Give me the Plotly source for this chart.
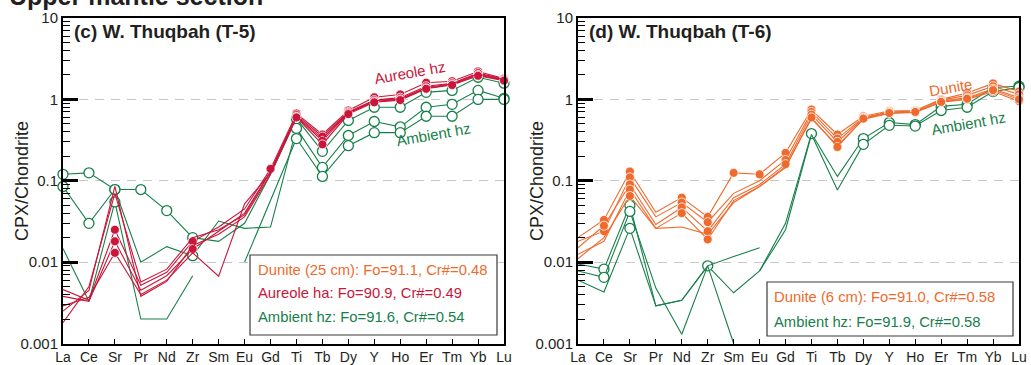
import plotly.graph_objects as go

# Element order on the x axis (chondrite-normalised CPX patterns)
elements = ["La", "Ce", "Sr", "Pr", "Nd", "Zr", "Sm", "Eu", "Gd",
            "Ti", "Tb", "Dy", "Y", "Ho", "Er", "Tm", "Yb", "Lu"]

# ---------------- T-5 ----------------
t5_aureole = [
    [0.0046, 0.0034, 0.025, 0.0052, 0.0075, 0.018, 0.027, 0.045, 0.14, 0.67, 0.37, 0.73, 1.06, 1.15, 1.6, 1.67, 2.2, 1.8],
    [0.0038, 0.0033, 0.018, 0.0045, 0.0068, 0.0145, 0.024, 0.040, 0.13, 0.64, 0.35, 0.70, 0.98, 1.05, 1.45, 1.58, 2.1, 1.78],
    [0.0029, 0.0037, 0.013, 0.0040, 0.0060, 0.013, 0.0067, 0.052, 0.125, 0.61, 0.31, 0.68, 0.94, 1.0, 1.37, 1.52, 2.0, 1.72],
    [0.0025, 0.0045, 0.085, 0.0038, 0.0058, 0.016, 0.022, 0.036, 0.12, 0.60, 0.28, 0.66, 0.92, 0.98, 1.35, 1.5, 1.95, 1.7],
    [0.0018, 0.0050, 0.070, 0.0057, 0.0082, 0.020, 0.025, 0.038, 0.13, 0.62, 0.33, 0.69, 0.96, 1.02, 1.4, 1.55, 2.05, 1.75],
]
t5_aureole_marked = [
    ["Sr", "Zr", "Gd", "Ti", "Tb", "Dy", "Y", "Ho", "Er", "Tm", "Yb", "Lu"],
    ["Sr", "Zr", "Ti", "Tb", "Dy", "Y", "Ho", "Er", "Tm", "Yb", "Lu"],
    ["Sr", "Ti", "Tb", "Dy", "Y", "Ho", "Er", "Tm", "Yb", "Lu"],
    ["Ti", "Tb", "Dy", "Y", "Ho", "Er", "Tm", "Yb", "Lu"],
    [],
]
t5_ambient = [
    [0.12, 0.125, 0.078, 0.078, 0.043, 0.020, 0.018, 0.030, 0.12, 0.58, 0.23, 0.55, 0.80, 0.80, 1.22, 1.29, 1.87, 1.58],
    [0.085, 0.030, 0.078, 0.010, 0.0155, 0.012, 0.032, 0.026, 0.027, 0.44, 0.146, 0.36, 0.535, 0.46, 0.80, 0.87, 1.29, 1.03],
    [0.0147, 0.0033, 0.055, 0.0020, 0.0020, 0.0068, None, 0.010, 0.058, 0.33, 0.113, 0.27, 0.39, 0.39, 0.62, 0.62, 1.0, 1.0],
]
t5_ambient_marked = [
    ["La", "Ce", "Sr", "Pr", "Nd", "Zr", "Ti", "Tb", "Dy", "Y", "Ho", "Er", "Tm", "Yb", "Lu"],
    ["La", "Ce", "Sr", "Zr", "Ti", "Tb", "Dy", "Y", "Ho", "Er", "Tm", "Yb", "Lu"],
    ["Sr", "Ti", "Tb", "Dy", "Y", "Ho", "Er", "Tm", "Yb", "Lu"],
]

# ---------------- T-6 ----------------
t6_dunite = [
    [0.020, 0.033, 0.13, 0.041, 0.062, 0.036, 0.125, 0.12, 0.22, 0.75, 0.37, 0.62, 0.72, 0.73, 1.0, 1.2, 1.57, 1.25],
    [0.018, 0.024, 0.11, 0.036, 0.054, 0.031, 0.070, 0.10, 0.18, 0.70, 0.33, 0.60, 0.70, 0.72, 0.98, 1.12, 1.45, 1.15],
    [0.015, 0.028, 0.09, 0.029, 0.047, 0.024, 0.062, 0.09, 0.16, 0.65, 0.30, 0.59, 0.69, 0.70, 0.95, 1.05, 1.35, 1.05],
    [0.0125, 0.018, 0.078, 0.026, 0.040, 0.019, 0.057, 0.085, 0.145, 0.60, 0.26, 0.58, 0.68, 0.70, 0.92, 1.0, 1.25, 0.95],
    [0.011, 0.020, 0.065, 0.026, 0.027, 0.022, 0.054, 0.085, 0.15, 0.58, 0.27, 0.57, 0.67, 0.69, 0.93, 1.02, 1.3, 1.0],
]
t6_dunite_marked = [
    ["Ce", "Sr", "Nd", "Zr", "Sm", "Eu", "Gd", "Ti", "Tb", "Dy", "Y", "Ho", "Er", "Tm", "Yb", "Lu"],
    ["Ce", "Sr", "Nd", "Zr", "Gd", "Ti", "Tb", "Dy", "Y", "Ho", "Er", "Tm", "Yb", "Lu"],
    ["Ce", "Sr", "Nd", "Zr", "Gd", "Ti", "Tb", "Dy", "Y", "Ho", "Er", "Tm", "Yb", "Lu"],
    ["Sr", "Nd", "Zr", "Ti", "Tb", "Dy", "Y", "Ho", "Er", "Tm", "Yb", "Lu"],
    ["Sr", "Er", "Tm", "Yb", "Lu"],
]
t6_ambient = [
    [0.0095, 0.0082, 0.050, 0.0029, 0.0034, 0.009, 0.0042, 0.0078, 0.030, 0.38, 0.113, 0.33, 0.52, 0.49, 0.82, 0.87, 1.40, 1.45],
    [0.0078, 0.0065, 0.042, 0.0048, 0.0013, 0.009, 0.0117, 0.015, None, None, None, None, None, None, None, None, None, None],
    [0.006, 0.0043, 0.026, 0.0029, 0.0034, 0.009, 0.001, None, None, None, None, None, None, None, None, None, None, None],
    [None, None, None, None, None, None, None, 0.0078, 0.025, 0.37, 0.077, 0.28, 0.48, 0.47, 0.73, 0.80, 1.25, 1.40],
]
t6_ambient_marked = [
    ["Ce", "Sr", "Zr", "Ti", "Dy", "Y", "Ho", "Er", "Tm", "Yb", "Lu"],
    ["Ce", "Sr"],
    ["Sr"],
    ["Dy", "Y", "Ho", "Er", "Tm", "Yb", "Lu"],
]

ORANGE = "#EF6A2C"
CRIMSON = "#C9163A"
GREEN = "#17804A"

fig = go.Figure()


def add_series(values, marked, color, filled, xa, ya):
    idx = list(range(len(elements)))
    fig.add_trace(go.Scatter(
        x=idx, y=values, mode="lines", xaxis=xa, yaxis=ya,
        line=dict(color=color, width=1.1), connectgaps=False,
        hoverinfo="skip", showlegend=False, cliponaxis=False))
    mx = [i for i, el in enumerate(elements) if el in marked and values[i] is not None]
    my = [values[i] for i in mx]
    if filled:
        marker = dict(size=9, color=color, line=dict(color="white", width=0.8))
    else:
        marker = dict(size=10, color="white", line=dict(color=color, width=1.3))
    fig.add_trace(go.Scatter(
        x=mx, y=my, mode="markers", xaxis=xa, yaxis=ya, marker=marker,
        hoverinfo="skip", showlegend=False, cliponaxis=False))


for vals, mk in zip(t5_ambient, t5_ambient_marked):
    add_series(vals, mk, GREEN, False, "x", "y")
for vals, mk in zip(t5_aureole, t5_aureole_marked):
    add_series(vals, mk, CRIMSON, True, "x", "y")
for vals, mk in zip(t6_ambient, t6_ambient_marked):
    add_series(vals, mk, GREEN, False, "x2", "y2")
for vals, mk in zip(t6_dunite, t6_dunite_marked):
    add_series(vals, mk, ORANGE, True, "x2", "y2")

W, H = 1031, 365
FONT = "Liberation Sans, Arial, sans-serif"


def px(x):
    return x / W


def py(y):
    return 1 - y / H


xcommon = dict(
    range=[0, 17], tickmode="array", tickvals=list(range(len(elements))),
    ticktext=elements, ticks="inside", ticklen=5, tickwidth=1, tickcolor="black",
    showline=True, linecolor="black", linewidth=2, mirror=True,
    showgrid=False, zeroline=False, automargin=False,
    tickfont=dict(family=FONT, size=14, color="#231f20"),
)
ycommon = dict(
    type="log", range=[-3, 1], tickmode="array",
    tickvals=[0.001, 0.01, 0.1, 1, 10], ticktext=["0.001", "0.01", "0.1", "1", "10"],
    ticks="inside", ticklen=15, tickwidth=2.5, tickcolor="black",
    minor=dict(ticks="inside", ticklen=7, tickwidth=1, tickcolor="black",
               tickvals=[m * 10 ** e for e in range(-3, 1) for m in range(2, 10)],
               showgrid=False),
    showline=True, linecolor="black", linewidth=2, mirror=True,
    showgrid=True, gridcolor="#c8c8c8", gridwidth=1.4, griddash="9px,7px",
    zeroline=False, automargin=False,
    tickfont=dict(family=FONT, size=15, color="#231f20"),
)

fig.update_layout(
    template="none",
    width=W, height=H, margin=dict(l=0, r=0, t=0, b=0),
    paper_bgcolor="white", plot_bgcolor="white",
    xaxis=dict(domain=[px(63), px(504)], anchor="y", **xcommon),
    yaxis=dict(domain=[py(343.5), py(18)], anchor="x", **ycommon),
    xaxis2=dict(domain=[px(578), px(1019)], anchor="y2", **xcommon),
    yaxis2=dict(domain=[py(343.5), py(18)], anchor="x2", **ycommon),
)

ann = []
ann.append(dict(text="<b>Upper mantle section</b>", x=px(7), y=py(-4.5), xref="paper", yref="paper",
                xanchor="left", yanchor="middle", showarrow=False,
                font=dict(family=FONT, size=25, color="#231f20")))
for xpos, label in [(72, "(c) W. Thuqbah (T-5)"), (587, "(d) W. Thuqbah (T-6)")]:
    ann.append(dict(text="<b>" + label + "</b>", x=px(xpos), y=py(32), xref="paper", yref="paper",
                    xanchor="left", yanchor="middle", showarrow=False,
                    font=dict(family=FONT, size=19, color="#231f20")))
for xpos in [22, 537]:
    ann.append(dict(text="CPX/Chondrite", x=px(xpos), y=py(181), xref="paper", yref="paper",
                    textangle=-90, showarrow=False, xanchor="center", yanchor="middle",
                    font=dict(family=FONT, size=18, color="#231f20")))
# in-plot series labels
for xpos, ypos, txt, col in [(410, 73, "Aureole hz", CRIMSON), (433, 135, "Ambient hz", GREEN),
                             (950, 87, "Dunite", ORANGE), (968, 124, "Ambient hz", GREEN)]:
    ann.append(dict(text=txt, x=px(xpos), y=py(ypos), xref="paper", yref="paper",
                    textangle=-10, showarrow=False, xanchor="center", yanchor="middle",
                    font=dict(family=FONT, size=15, color=col)))
# legend boxes
fig.add_shape(type="rect", xref="paper", yref="paper", x0=px(250), x1=px(497), y0=py(335), y1=py(255),
              line=dict(color="#3a3a3a", width=1.2), fillcolor="white")
fig.add_shape(type="rect", xref="paper", yref="paper", x0=px(767), x1=px(1013), y0=py(336), y1=py(282),
              line=dict(color="#3a3a3a", width=1.2), fillcolor="white")
for xpos, ypos, txt, col in [
        (256, 270, "Dunite (25 cm): Fo=91.1, Cr#=0.48", ORANGE),
        (256, 293, "Aureole ha: Fo=90.9, Cr#=0.49", CRIMSON),
        (256, 317, "Ambient hz: Fo=91.6, Cr#=0.54", GREEN),
        (772, 297, "Dunite (6 cm): Fo=91.0, Cr#=0.58", ORANGE),
        (772, 322, "Ambient hz: Fo=91.9, Cr#=0.58", GREEN)]:
    ann.append(dict(text=txt, x=px(xpos), y=py(ypos), xref="paper", yref="paper",
                    xanchor="left", yanchor="middle", showarrow=False,
                    font=dict(family=FONT, size=14.8, color=col)))
fig.update_layout(annotations=ann)

fig.write_html("out.html")
